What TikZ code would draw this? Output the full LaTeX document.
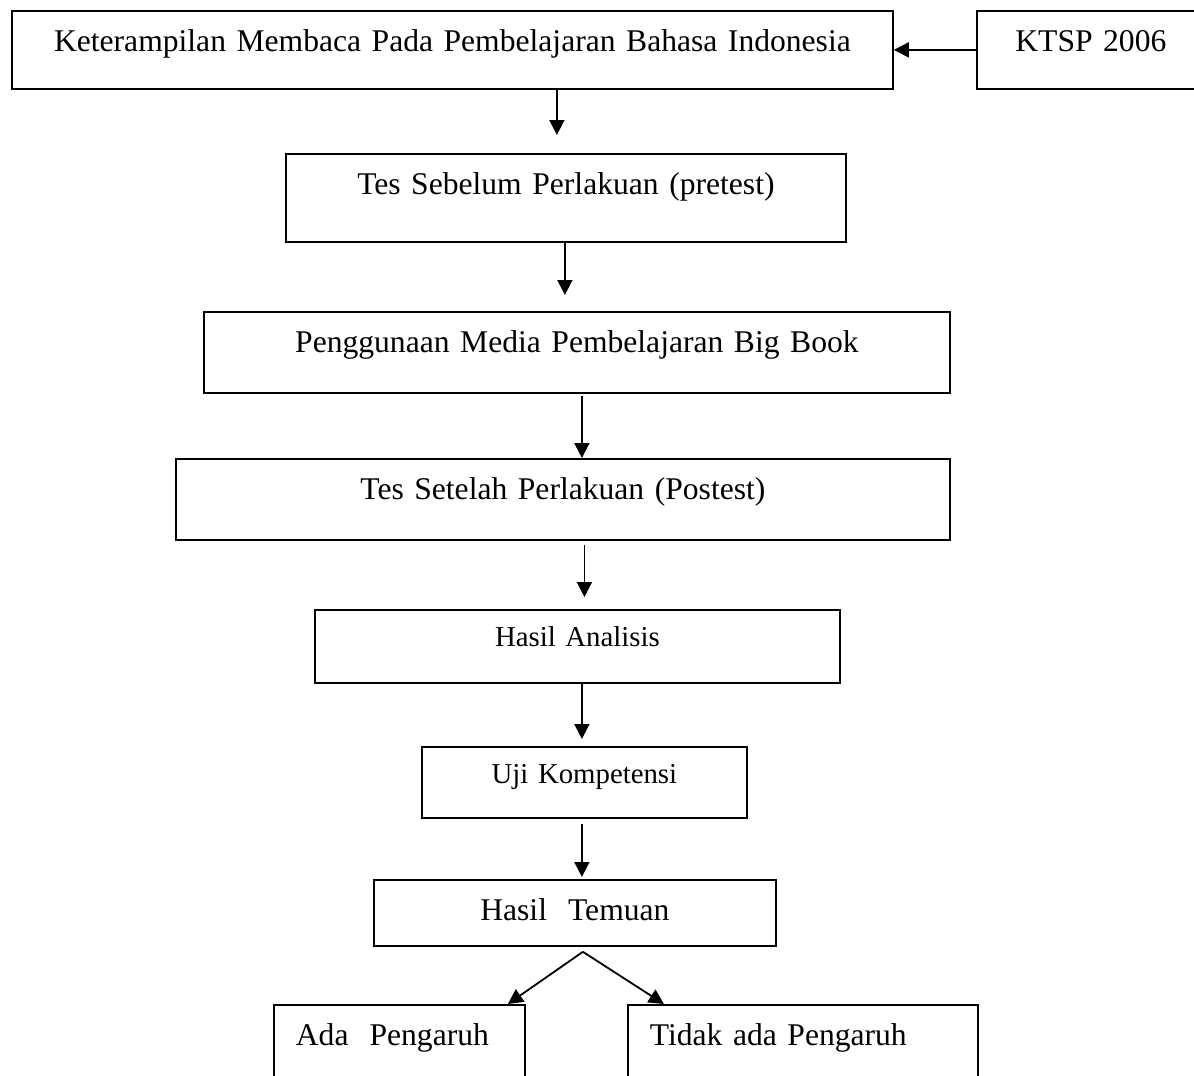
\documentclass[tikz,border=0pt]{standalone}
\usepackage{fontspec}
\setmainfont{Liberation Serif}
\usetikzlibrary{arrows.meta}

\begin{document}
\begin{tikzpicture}[
  x=0.5pt, y=-0.5pt,
  box/.style = {
    draw, line width=0.9pt, anchor=north west,
    inner xsep=0pt, inner ysep=0pt, align=center,
    text height=20.5pt, font=\fontsize{15.8}{19}\selectfont
  },
  smallbox/.style = {
    box, text height=18.5pt, font=\fontsize{14.4}{17}\selectfont
  },
  leftbox/.style = {
    box, align=left, inner xsep=11pt
  },
  arrow/.style = {
    -{Triangle[length=7.5pt, width=7.5pt]}, line width=0.9pt
  }
]

\clip (0,0) rectangle (1194,1076);

% ====== TOP ROW ======
\node[box, text width=440.5pt, text depth=18.5pt] (keterampilan) at (11,10)
  {Keterampilan Membaca Pada Pembelajaran Bahasa Indonesia};
\node[box, text width=114pt, text depth=18.5pt] (ktsp) at (976,10)
  {KTSP 2006};

% ====== MAIN FLOW ======
\node[box, text width=280pt, text depth=23.5pt] (pretest) at (285,153)
  {Tes Sebelum Perlakuan (pretest)};
\node[box, text width=373pt, text depth=20pt] (bigbook) at (203,311)
  {Penggunaan Media Pembelajaran Big Book};
\node[box, text width=387pt, text depth=20pt] (postest) at (175,458)
  {Tes Setelah Perlakuan (Postest)};
\node[smallbox, text width=262.5pt, text depth=18pt] (analisis) at (314,609)
  {Hasil Analisis};
\node[smallbox, text width=162.5pt, text depth=17pt] (kompetensi) at (421,746)
  {Uji Kompetensi};
\node[box, text width=201pt, text depth=12.5pt] (temuan) at (373,879)
  {Hasil~~Temuan};

% ====== OUTCOMES (cut by the page edge) ======
\node[leftbox, text width=103.5pt, text depth=40pt] (ada) at (273,1004)
  {Ada~~Pengaruh};
\node[leftbox, text width=153pt, text depth=40pt] (tidak) at (627,1004)
  {Tidak ada Pengaruh};

% ====== ARROWS ======
\draw[arrow] (ktsp.west) -- (keterampilan.east);

\draw[arrow, shorten >=9pt]
  ([xshift=-4.5pt]pretest.north |- keterampilan.south) -- ([xshift=-4.5pt]pretest.north);
\draw[arrow, shorten >=8pt]
  ([xshift=-0.5pt]pretest.south) -- ([xshift=-0.5pt]pretest.south |- bigbook.north);
\draw[arrow, shorten <=1pt]
  ([xshift=2.5pt]bigbook.south) -- ([xshift=2.5pt]bigbook.south |- postest.north);
\draw[arrow, shorten <=2pt, shorten >=6pt]
  ([xshift=3.5pt]analisis.north |- postest.south) -- ([xshift=3.5pt]analisis.north);
\draw[arrow, shorten >=3.5pt]
  ([xshift=2.25pt]analisis.south) -- ([xshift=2.25pt]analisis.south |- kompetensi.north);
\draw[arrow, shorten <=2.5pt, shorten >=1pt]
  ([xshift=-1.25pt]kompetensi.south) -- ([xshift=-1.25pt]kompetensi.south |- temuan.north);

% fork below the findings
\coordinate (fork) at ([xshift=4pt, yshift=-2.5pt]temuan.south);
\draw[arrow] (fork) -- ([xshift=54.25pt]ada.north);
\draw[arrow] (fork) -- ([xshift=-69.5pt]tidak.north);

\end{tikzpicture}
\end{document}
